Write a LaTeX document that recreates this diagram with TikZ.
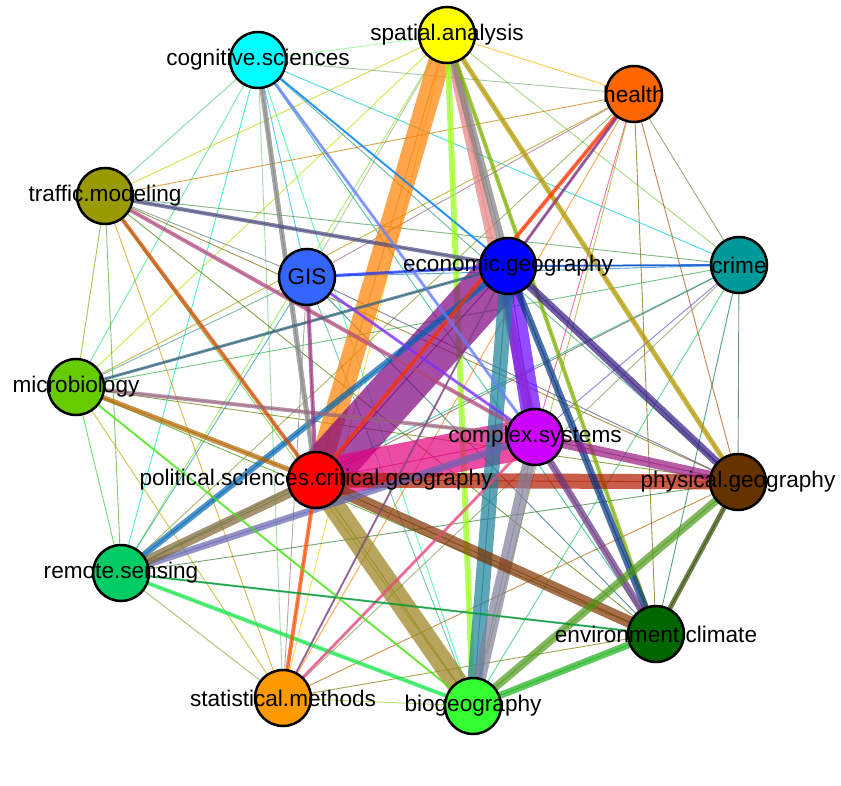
\documentclass[tikz,border=0pt]{standalone}
\usepackage{fontspec}
\setmainfont{Liberation Sans}
\pgfdeclarelayer{bg}
\pgfdeclarelayer{fg}
\pgfsetlayers{bg,main,fg}
\definecolor{csa}{HTML}{FFFF00}
\definecolor{ccs}{HTML}{00FFFF}
\definecolor{che}{HTML}{FF6600}
\definecolor{ctm}{HTML}{999900}
\definecolor{cgis}{HTML}{3366FF}
\definecolor{ceg}{HTML}{0000FF}
\definecolor{ccr}{HTML}{009999}
\definecolor{cmb}{HTML}{66CC00}
\definecolor{ccx}{HTML}{CC00FF}
\definecolor{cpol}{HTML}{FF0000}
\definecolor{cpg}{HTML}{663300}
\definecolor{crs}{HTML}{00CC66}
\definecolor{cec}{HTML}{006600}
\definecolor{csm}{HTML}{FF9900}
\definecolor{cbg}{HTML}{33FF33}
\tikzset{
  vert/.style={circle, draw=black, line width=2.5pt, minimum size=56pt, inner sep=0pt, fill=c#1},
  lab/.style={font=\fontsize{22.6}{24}\selectfont, inner sep=0pt, text=black}
}
\newcommand\myedge[3]{\draw[line width=#3pt, draw=c#1!50!c#2, draw opacity=0.7] (#1.center) -- (#2.center);}
\begin{document}
\begin{tikzpicture}[x=1pt,y=-1pt]
\useasboundingbox (0,0) rectangle (841,786);
\node[vert=sa] (sa) at (447,35) {};
\node[vert=cs] (cs) at (258,60) {};
\node[vert=he] (he) at (634,94) {};
\node[vert=tm] (tm) at (105,196) {};
\node[vert=gis] (gis) at (307,277) {};
\node[vert=eg] (eg) at (508,266) {};
\node[vert=cr] (cr) at (739,265) {};
\node[vert=mb] (mb) at (76,387) {};
\node[vert=cx] (cx) at (535,437) {};
\node[vert=pol] (pol) at (316,480) {};
\node[vert=pg] (pg) at (738,482) {};
\node[vert=rs] (rs) at (121,573) {};
\node[vert=ec] (ec) at (656,634) {};
\node[vert=sm] (sm) at (283,698) {};
\node[vert=bg] (bg) at (473,706) {};
\begin{pgfonlayer}{bg}
\fill[white] (0,0) rectangle (841,786);
\foreach \a [count=\i] in {sa,cs,he,tm,gis,eg,cr,mb,cx,pol,pg,rs,ec,sm,bg}{
  \foreach \b [count=\j] in {sa,cs,he,tm,gis,eg,cr,mb,cx,pol,pg,rs,ec,sm,bg}{
    \ifnum\j>\i \myedge{\a}{\b}{0.9}\fi
  }
}
\myedge{sa}{pol}{22}
\myedge{sa}{cx}{10}
\myedge{sa}{eg}{8}
\myedge{sa}{bg}{6}
\myedge{sa}{pg}{5}
\myedge{sa}{ec}{4}
\myedge{eg}{pol}{50}
\myedge{cx}{pol}{40}
\myedge{pol}{pg}{15}
\myedge{eg}{cx}{20}
\myedge{eg}{bg}{15}
\myedge{pol}{bg}{22}
\myedge{cx}{bg}{13}
\myedge{pol}{ec}{12}
\myedge{eg}{ec}{7}
\myedge{eg}{pg}{8}
\myedge{eg}{rs}{6}
\myedge{cx}{pg}{10}
\myedge{cx}{ec}{7}
\myedge{pg}{ec}{5}
\myedge{pg}{bg}{8}
\myedge{ec}{bg}{7}
\myedge{rs}{bg}{4}
\myedge{rs}{cx}{7}
\myedge{rs}{pol}{10}
\myedge{cs}{pol}{5}
\myedge{tm}{eg}{4}
\myedge{tm}{cx}{4}
\myedge{tm}{pol}{4}
\myedge{mb}{eg}{3}
\myedge{mb}{cx}{4}
\myedge{mb}{pol}{5}
\myedge{gis}{eg}{3}
\myedge{gis}{cx}{3}
\myedge{gis}{pol}{4}
\myedge{he}{pol}{4}
\myedge{he}{eg}{3}
\myedge{sm}{pol}{4}
\myedge{sm}{cx}{3}
\myedge{sm}{eg}{2}
\myedge{rs}{ec}{2}
\myedge{mb}{bg}{2}
\myedge{cs}{eg}{2}
\myedge{cs}{cx}{3}
\myedge{eg}{cr}{2}
\end{pgfonlayer}
\begin{pgfonlayer}{fg}
\node[lab] (lsa) at (sa) {spatial.analysis};
\node[lab] (lcs) at (cs) {cognitive.sciences};
\node[lab] (lhe) at (he) {health};
\node[lab] (ltm) at (tm) {traffic.modeling};
\node[lab] (lgis) at (gis) {GIS};
\node[lab] (leg) at (eg) {economic.geography};
\node[lab] (lcr) at (cr) {crime};
\node[lab] (lmb) at (mb) {microbiology};
\node[lab] (lcx) at (cx) {complex.systems};
\node[lab] (lpol) at (pol) {political.sciences.critical.geography};
\node[lab] (lpg) at (pg) {physical.geography};
\node[lab] (lrs) at (rs) {remote.sensing};
\node[lab] (lec) at (ec) {environment.climate};
\node[lab] (lsm) at (sm) {statistical.methods};
\node[lab] (lbg) at (bg) {biogeography};
\end{pgfonlayer}
\end{tikzpicture}
\end{document}
